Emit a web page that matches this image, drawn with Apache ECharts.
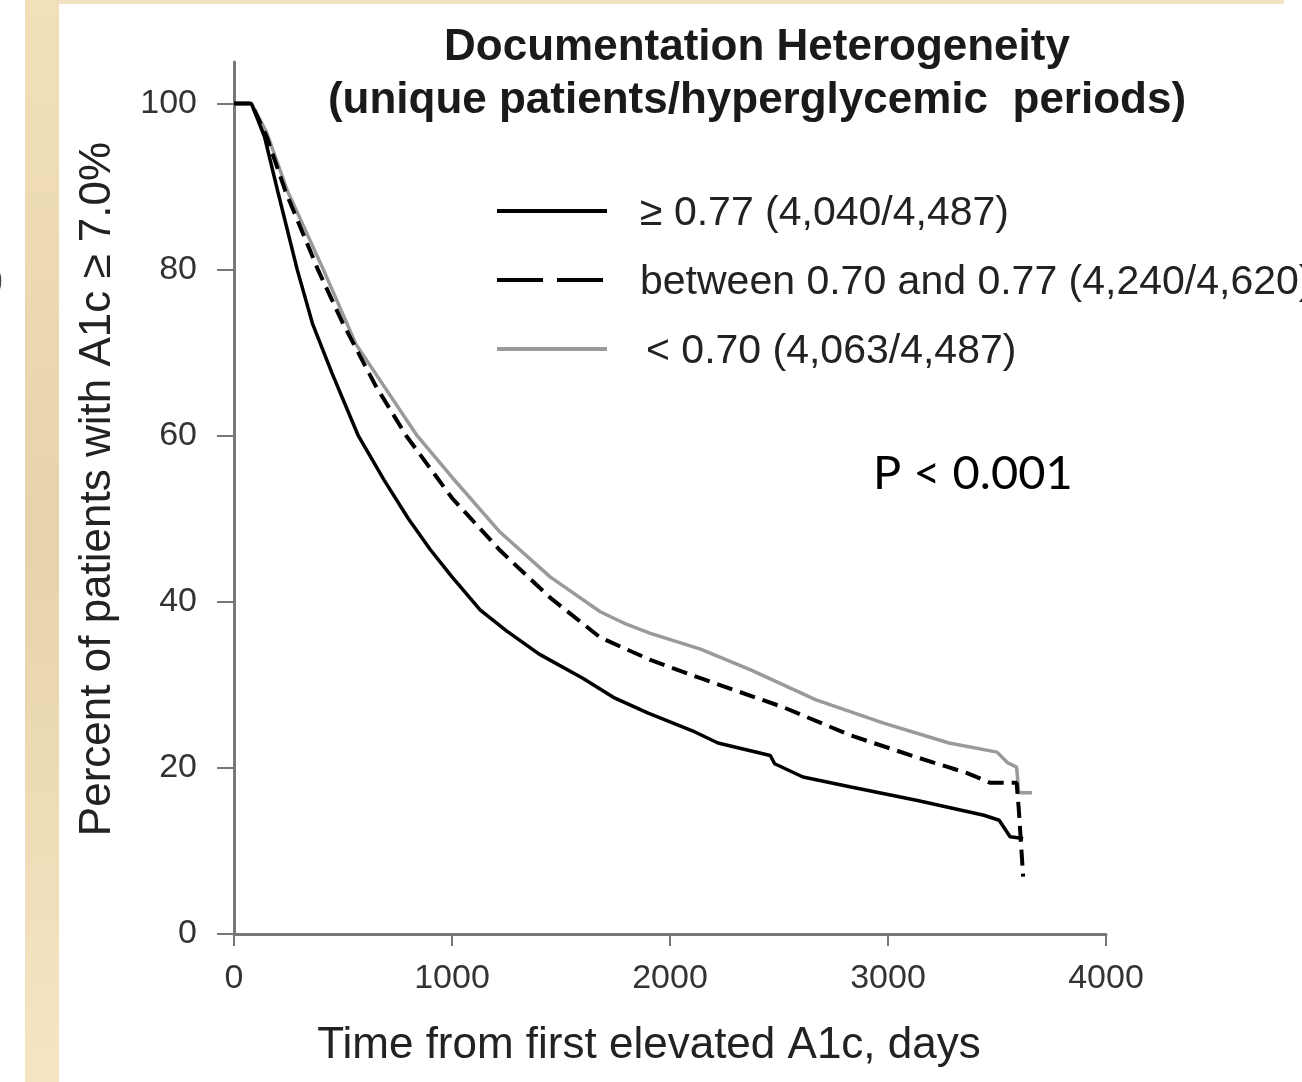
<!DOCTYPE html>
<html>
<head>
<meta charset="utf-8">
<script src="https://cdn.jsdelivr.net/npm/echarts@6/dist/echarts.min.js"></script>
<style>
  html, body { margin: 0; padding: 0; background: #fff; }
  #main { width: 1302px; height: 1082px; }
</style>
</head>
<body>
<div id="main"></div>
<script>
// curves (days, percent)
const daysHigh = [0, 80, 140, 200, 290, 360, 450, 570, 690, 800, 900, 1000, 1130, 1250, 1400, 1600, 1740, 1900, 2100, 2220, 2460, 2480, 2610, 2830, 3130, 3440, 3510, 3560, 3620];
const pctHigh  = [100, 100, 96, 89.5, 80, 73.5, 67.5, 60, 54.6, 50, 46.3, 43, 39, 36.5, 33.7, 30.8, 28.5, 26.6, 24.5, 23, 21.5, 20.5, 18.9, 17.7, 16.1, 14.3, 13.7, 11.7, 11.5];

const daysMid = [0, 80, 150, 235, 385, 500, 650, 790, 1000, 1220, 1450, 1680, 1910, 2140, 2520, 2830, 3130, 3360, 3470, 3590, 3600, 3620];
const pctMid  = [100, 100, 96, 89.5, 80, 73.5, 66, 60, 52.5, 46.2, 40.5, 35.7, 33, 30.8, 27.3, 23.9, 21.3, 19.4, 18.2, 18.2, 15, 6.9];

const daysLow = [0, 80, 150, 245, 410, 560, 840, 1000, 1220, 1450, 1680, 1800, 1910, 2140, 2370, 2670, 2980, 3280, 3500, 3550, 3590, 3600, 3660];
const pctLow  = [100, 100, 96.5, 89.5, 80, 71, 60, 55, 48.4, 43, 38.8, 37.3, 36.2, 34.3, 31.8, 28.2, 25.4, 23, 21.9, 20.6, 20.1, 17, 17];

const seriesNames = ['≥ 0.77 (4,040/4,487)', 'between 0.70 and 0.77 (4,240/4,620)', '< 0.70 (4,063/4,487)'];
const yTicks = [0, 20, 40, 60, 80, 100];

function pairs(xs, ys) {
  return xs.map((x, i) => [x, ys[i]]);
}

const font = '"Liberation Sans", Arial, sans-serif';
const chart = echarts.init(document.getElementById('main'));

// hand-drawn legend rows: y position, line style, text x
const legendRows = [
  { y: 211, color: '#000', dash: null, textX: 640 },
  { y: 280, color: '#000', dash: [46, 14], textX: 640 },
  { y: 349, color: '#9a9a9a', dash: null, textX: 646 }
];
const legendGraphics = [];
legendRows.forEach((r, i) => {
  legendGraphics.push({
    type: 'line',
    shape: { x1: 497, y1: r.y, x2: 607, y2: r.y },
    style: { stroke: r.color, lineWidth: 4, lineDash: r.dash }
  });
  legendGraphics.push({
    type: 'text', x: r.textX, y: r.y + 3,
    style: { text: seriesNames[i], fontSize: 41, fill: '#222', fontFamily: font, verticalAlign: 'middle' }
  });
});

chart.setOption({
  backgroundColor: '#fff',
  animation: false,
  textStyle: { fontFamily: font },
  title: {
    text: 'Documentation Heterogeneity\n(unique patients/hyperglycemic  periods)',
    left: 752,
    top: 16,
    textAlign: 'center',
    textStyle: { fontSize: 44, fontWeight: 'bold', color: '#1a1a1a', lineHeight: 53, fontFamily: font }
  },
  grid: { left: 234, right: 196, top: 62, bottom: 148 },
  xAxis: {
    type: 'value',
    min: 0, max: 4000, interval: 1000,
    name: 'Time from first elevated A1c, days',
    nameLocation: 'middle',
    nameGap: 90,
    nameTextStyle: { fontSize: 44, color: '#222', padding: [0, 42, 0, 0] },
    axisLine: { lineStyle: { color: '#777', width: 3 } },
    axisTick: { length: 12, lineStyle: { color: '#777', width: 2 } },
    axisLabel: { fontSize: 34, color: '#333', margin: 28, formatter: v => String(v) },
    splitLine: { show: false }
  },
  yAxis: {
    type: 'value',
    min: 0, max: 105,
    name: 'Percent of patients with A1c ≥ 7.0%',
    nameLocation: 'middle',
    nameGap: 114,
    nameTextStyle: { fontSize: 44, color: '#222', padding: [0, 0, 0, 18] },
    axisLine: { show: true, lineStyle: { color: '#777', width: 3 } },
    axisTick: { show: true, length: 17, customValues: yTicks, lineStyle: { color: '#777', width: 2 } },
    axisLabel: { fontSize: 34, color: '#333', margin: 37, customValues: yTicks },
    splitLine: { show: false }
  },
  series: [
    {
      name: seriesNames[0], type: 'line', symbol: 'none',
      data: pairs(daysHigh, pctHigh),
      lineStyle: { color: '#000', width: 3.5 }, z: 4
    },
    {
      name: seriesNames[1], type: 'line', symbol: 'none',
      data: pairs(daysMid, pctMid),
      lineStyle: { color: '#000', width: 4, type: [16, 8] }, z: 3
    },
    {
      name: seriesNames[2], type: 'line', symbol: 'none',
      data: pairs(daysLow, pctLow),
      lineStyle: { color: '#9a9a9a', width: 3.5 }, z: 2
    }
  ],
  graphic: [
    {
      type: 'rect', left: 25, top: 0, z: -1,
      shape: { width: 34, height: 1082 },
      style: {
        fill: new echarts.graphic.LinearGradient(0, 0, 0, 1, [
          { offset: 0, color: '#f2e0bb' },
          { offset: 0.5, color: '#e6d3ab' },
          { offset: 1, color: '#f6e5c3' }
        ])
      }
    },
    {
      type: 'rect', left: 59, top: 0, z: -1,
      shape: { width: 1225, height: 4 },
      style: { fill: '#f4e3c0' }
    },
    {
      type: 'text', left: -9, top: 262,
      style: { text: ')', fontSize: 38, fill: '#444', fontFamily: font }
    },
    {
      type: 'text', left: 873, top: 450,
      style: { text: 'P < 0.001', fontSize: 47, fill: '#000', fontFamily: 'Lato, "Open Sans", sans-serif' }
    }
  ].concat(legendGraphics)
});
</script>
</body>
</html>
